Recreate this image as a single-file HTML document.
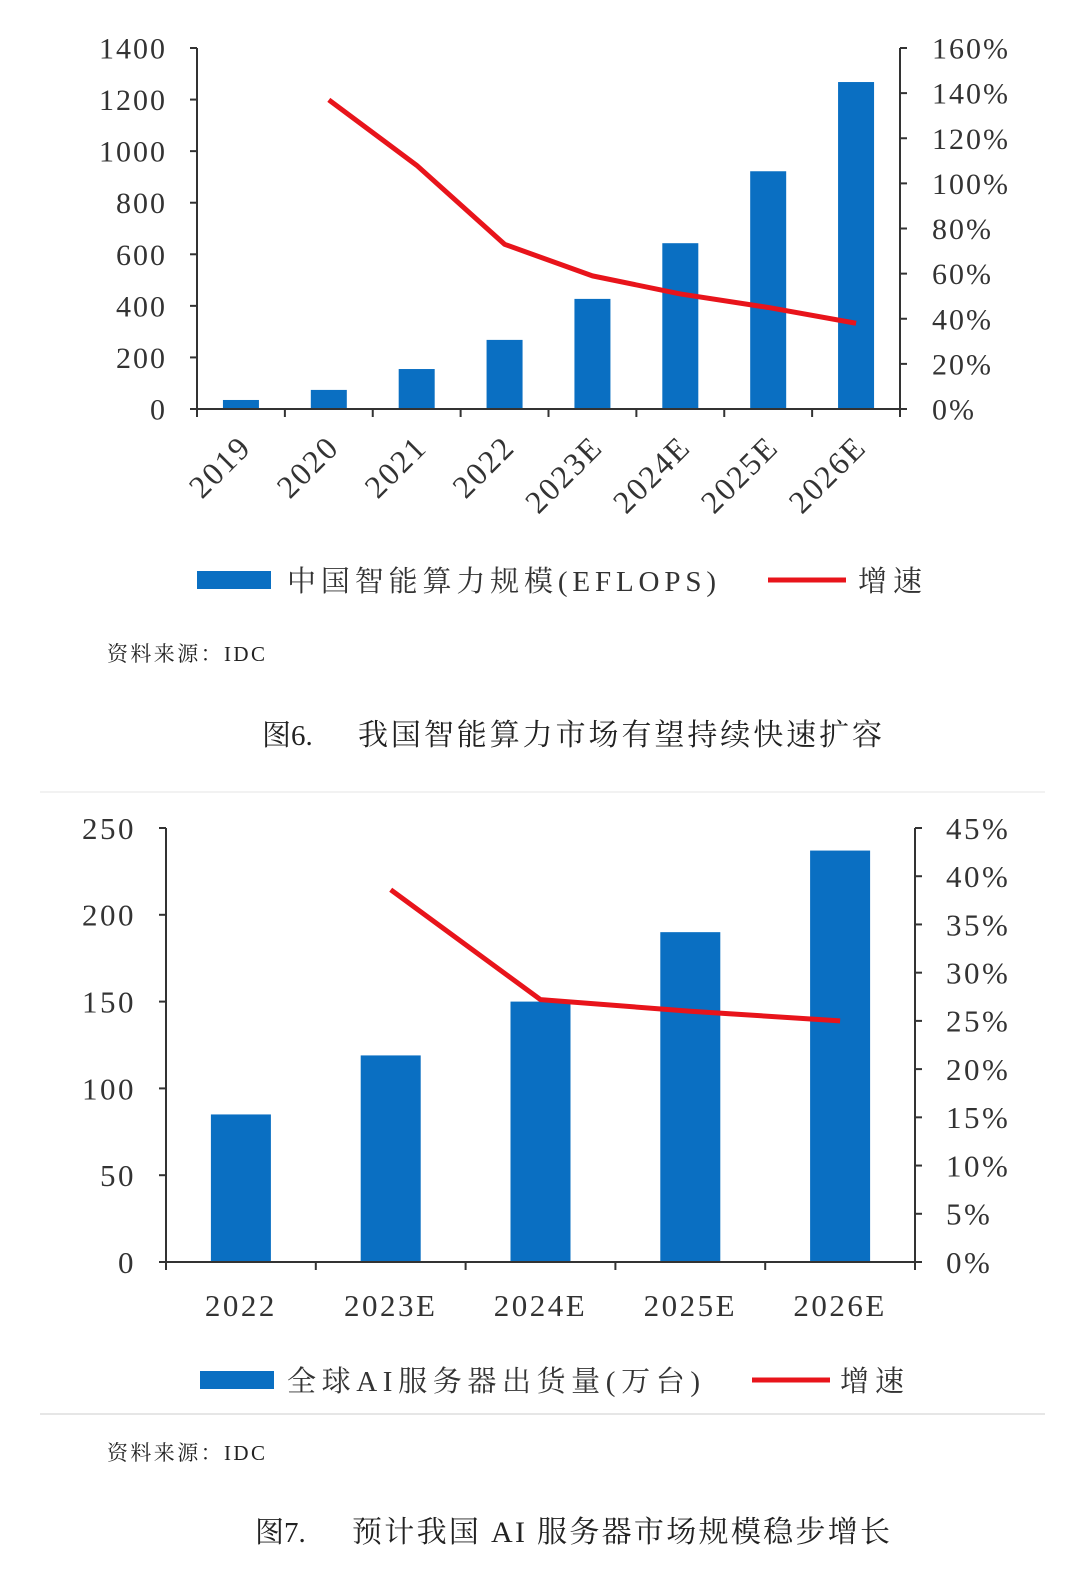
<!DOCTYPE html>
<html><head><meta charset="utf-8">
<style>
html,body{margin:0;padding:0;background:#fff;}
body{width:1080px;height:1571px;overflow:hidden;position:relative;font-family:"Liberation Serif","Noto Serif CJK SC",serif;}
svg text{font-family:"Liberation Serif","Noto Serif CJK SC",serif;}
</style></head>
<body>
<svg id="s" width="1080" height="1571" xmlns="http://www.w3.org/2000/svg">
<g id="c1"></g>
<g id="c2"></g>
<text x="107" y="661" font-size="21" fill="#222" textLength="158" lengthAdjust="spacing">资料来源：IDC</text>
<text x="262" y="745" font-size="29" fill="#222">图6.</text>
<text x="358" y="745" font-size="30" fill="#222" textLength="524" lengthAdjust="spacing">我国智能算力市场有望持续快速扩容</text>
<line x1="40" y1="792" x2="1045" y2="792" stroke="#eee" stroke-width="1.5"/>
<line x1="40" y1="1414" x2="1045" y2="1414" stroke="#ddd" stroke-width="1.5"/>
<text x="107" y="1460" font-size="21" fill="#222" textLength="158" lengthAdjust="spacing">资料来源：IDC</text>
<text x="255" y="1542" font-size="29" fill="#222">图7.</text>
<text x="352" y="1542" font-size="30" fill="#222" textLength="538" lengthAdjust="spacing">预计我国 AI 服务器市场规模稳步增长</text>
</svg>
<script>
const cats1=["2019","2020","2021","2022","2023E","2024E","2025E","2026E"];
const bars1=[35,74,155,268,427,643,922,1268];
const growth1=[null,137,108,73,59,51,45,38];
const leftTicks1=[0,200,400,600,800,1000,1200,1400];
const rightTicks1=[0,20,40,60,80,100,120,140,160];
const cats2=["2022","2023E","2024E","2025E","2026E"];
const bars2=[85,119,150,190,237];
const growth2=[null,38.6,27.2,26,25];
const leftTicks2=[0,50,100,150,200,250];
const rightTicks2=[0,5,10,15,20,25,30,35,40,45];
const NS="http://www.w3.org/2000/svg";
function mk(p,tag,a,txt){const e=document.createElementNS(NS,tag);for(const k in a)e.setAttribute(k,a[k]);if(txt!=null)e.textContent=txt;p.appendChild(e);return e;}
function draw(g,o){
 const {x0,x1,y0,y1,lmax,rmax,cats,bars,growth,lt,rt,bw,rot,fs,ls,loff,roff,xfs}=o;
 const n=cats.length,step=(x1-x0)/n;
 const X=i=>x0+step*(i+0.5), YL=v=>y0-(y0-y1)*v/lmax, YR=v=>y0-(y0-y1)*v/rmax;
 bars.forEach((v,i)=>{const r=mk(g,'rect',{x:X(i)-bw/2,y:YL(v),width:bw,height:y0-YL(v),fill:'#0a6fc2'});
  
  });
 const ax=mk(g,'path',{d:`M${x0} ${y1}V${y0}H${x1}V${y1}`,fill:'none',stroke:'#333','stroke-width':2});
 
 
 lt.forEach(v=>{mk(g,'line',{x1:x0-7,x2:x0,y1:YL(v),y2:YL(v),stroke:'#333','stroke-width':2});
  const t=mk(g,'text',{x:x0-loff,y:YL(v)+fs*0.35,'font-size':fs,'text-anchor':'end','letter-spacing':ls,fill:'#333'},v);
  
  });
 rt.forEach(v=>{mk(g,'line',{x1:x1,x2:x1+7,y1:YR(v),y2:YR(v),stroke:'#333','stroke-width':2});
  const t=mk(g,'text',{x:x1+roff,y:YR(v)+fs*0.35,'font-size':fs,'letter-spacing':ls,fill:'#333'},v+'%');
  
  });
 for(let i=0;i<=n;i++)mk(g,'line',{x1:x0+step*i,x2:x0+step*i,y1:y0,y2:y0+8,stroke:'#333','stroke-width':2});
 cats.forEach((c,i)=>{let t;
  if(rot)t=mk(g,'text',{x:X(i)+12,y:y0+40,'font-size':xfs,'letter-spacing':ls,'text-anchor':'end',fill:'#333',transform:`rotate(-45 ${X(i)+12} ${y0+40})`},c);
  else t=mk(g,'text',{x:X(i),y:y0+54,'font-size':xfs,'letter-spacing':ls,'text-anchor':'middle',fill:'#333'},c);
  
  });
 const pts=growth.map((v,i)=>v==null?null:[X(i),YR(v)]).filter(p=>p);
 const l=mk(g,'polyline',{points:pts.map(p=>p.join(',')).join(' '),fill:'none',stroke:'#e8141b','stroke-width':5,'stroke-linejoin':'round'});
 
 
}
const g1=document.getElementById('c1'),g2=document.getElementById('c2');
draw(g1,{x0:197,x1:900,y0:409,y1:48,lmax:1400,rmax:160,cats:cats1,bars:bars1,growth:growth1,lt:leftTicks1,rt:rightTicks1,bw:36,rot:true,fs:30,xfs:32,ls:2,loff:30,roff:32});
draw(g2,{x0:166,x1:915,y0:1262,y1:828,lmax:250,rmax:45,cats:cats2,bars:bars2,growth:growth2,lt:leftTicks2,rt:rightTicks2,bw:60,rot:false,fs:31,xfs:31,ls:2.5,loff:30,roff:31});
function legend(g,y,bx,bend,lbl,lblEnd,lx,lend,nm){
 const r=mk(g,'rect',{x:bx,y:y-9,width:74,height:18,fill:'#0a6fc2'});
 
 
 const t=mk(g,'text',{x:bend,y:y+11,'font-size':29,fill:'#333',textLength:lblEnd-bend,lengthAdjust:'spacing'},lbl);
 
 
 const l=mk(g,'line',{x1:lx,x2:lx+78,y1:y,y2:y,stroke:'#e8141b','stroke-width':5});
 
 
 const t2=mk(g,'text',{x:lend,y:y+11,'font-size':29,fill:'#333',textLength:64,lengthAdjust:'spacing'},'增速');
 
 
}
legend(g1,580,197,287,'中国智能算力规模(EFLOPS)',716,768,858,'chart1');
legend(g2,1380,200,287,'全球AI服务器出货量(万台)',700,752,840,'chart2');
</script>
</body></html>
